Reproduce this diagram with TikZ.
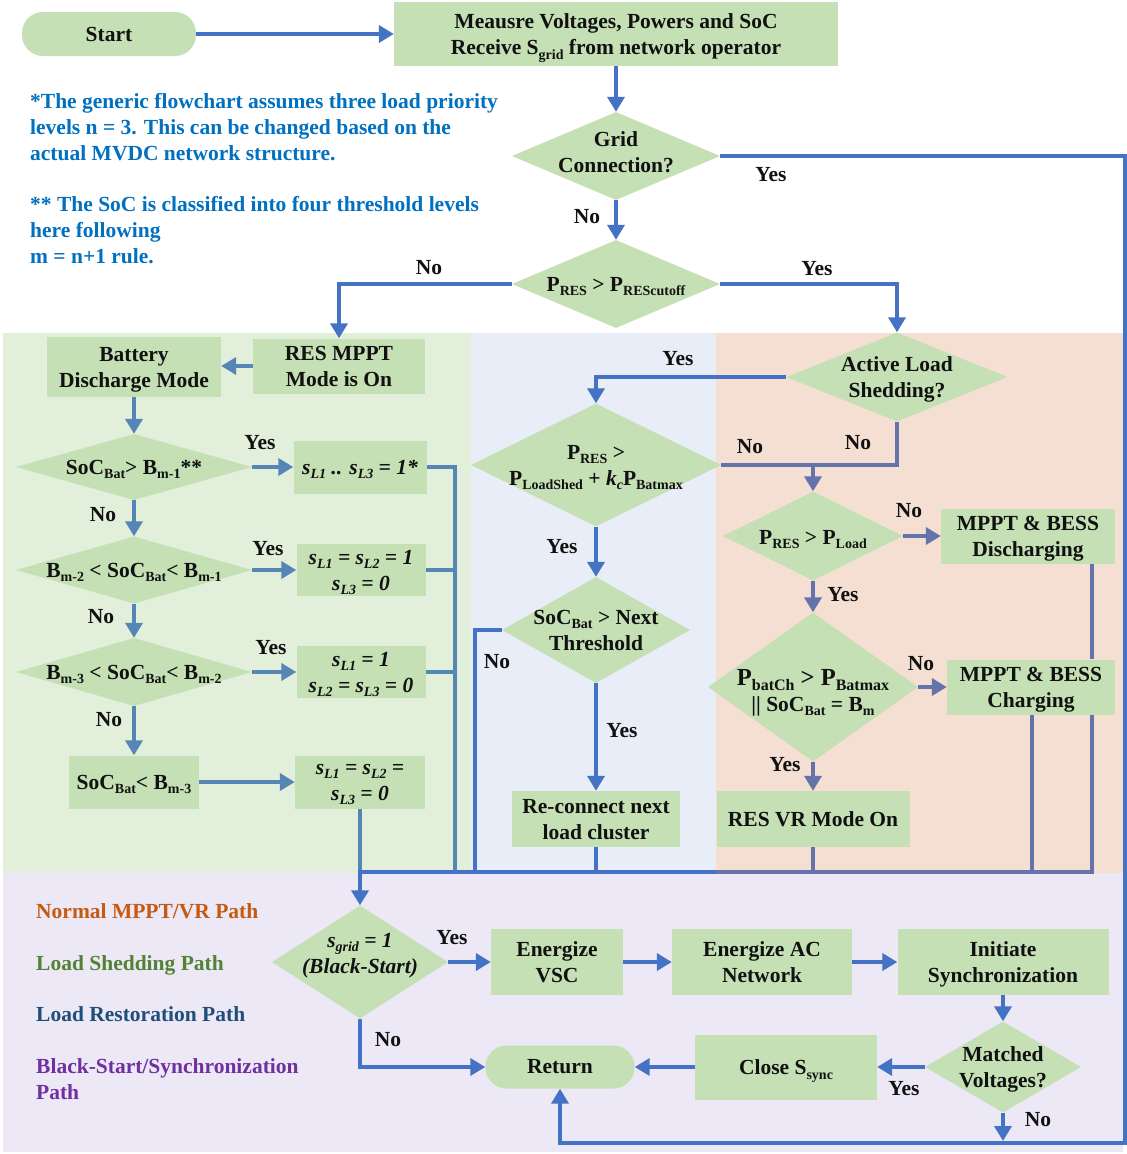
\documentclass[tikz,border=0pt]{standalone}
\usepackage{fontspec}
\setmainfont{Liberation Serif}
\usetikzlibrary{arrows.meta,shapes.geometric}
\definecolor{nodefill}{HTML}{C5E0B4}
\definecolor{mainblue}{HTML}{4472C4}
\definecolor{steel}{HTML}{5586B6}
\definecolor{slate}{HTML}{6473AA}
\definecolor{bggreen}{HTML}{E2EFDA}
\definecolor{bgblue}{HTML}{E9EDF7}
\definecolor{bgorange}{HTML}{F4DFD2}
\definecolor{bgpurple}{HTML}{ECE8F6}
\definecolor{notecol}{HTML}{0070C0}
\definecolor{legorange}{HTML}{C55A11}
\definecolor{leggreen}{HTML}{548235}
\definecolor{legblue}{HTML}{1F4E79}
\definecolor{legpurple}{HTML}{7030A0}
\definecolor{txtcol}{HTML}{111111}
\newcommand\mysub[1]{\raisebox{-0.22em}{\fontsize{14}{14}\selectfont #1}}
\newcommand\mybigsub[1]{\raisebox{-0.22em}{\fontsize{16}{16}\selectfont #1}}
\tikzset{
  box/.style={rectangle, fill=nodefill, inner sep=0pt, align=center, text=txtcol, text depth=0pt},
  dia/.style={diamond, fill=nodefill, inner sep=0pt},
  term/.style={rectangle, rounded corners=21pt, fill=nodefill, inner sep=0pt, text=txtcol},
  txt/.style={align=center, inner sep=0pt, text=txtcol, text depth=0pt},
  lab/.style={inner sep=0pt, text=txtcol},
  note/.style={align=left, inner sep=0pt, text=notecol, anchor=north west},
  leg/.style={inner sep=0pt, anchor=base west},
  ln/.style={line width=4pt, draw=mainblue},
  arr/.style={line width=4pt, draw=mainblue, -{Triangle[width=17pt,length=15pt]}},
}
\begin{document}
\begin{tikzpicture}[x=1pt, y=-1pt, font=\fontsize{21.5}{26}\selectfont\bfseries]
\useasboundingbox (0,0) rectangle (1127,1154);
\fill[white] (0,0) rectangle (1127,1154);
% background regions
\fill[bggreen] (3,333) rectangle (471,873);
\fill[bgblue] (471,333) rectangle (716,873);
\fill[bgorange] (716,333) rectangle (1123,873);
\fill[bgpurple] (3,873) rectangle (1123,1152);

% notes
\node[note] (note1) at (30,93) {*The generic flowchart assumes three load priority\\levels n = 3. This can be changed based on the\\actual MVDC network structure.};
\node[note] (note2) at (30,196) {** The SoC is classified into four threshold levels\\here following\\m = n+1 rule.};

% legend
\node[leg, text=legorange] (leg1) at (36,918) {Normal MPPT/VR Path};
\node[leg, text=leggreen] (leg2) at (36,970) {Load Shedding Path};
\node[leg, text=legblue] (leg3) at (36,1021) {Load Restoration Path};
\node[leg, text=legpurple, align=left, anchor=north west] (leg4) at (36,1058) {Black-Start/Synchronization\\Path};

% top
\node[term, minimum width=174pt, minimum height=44pt] (start) at (109,34) {Start};
\node[box, minimum width=444pt, minimum height=64pt] (meas) at (616,34) {Meausre Voltages, Powers and SoC\\Receive S\mysub{grid} from network operator};
\node[dia, minimum width=208pt, minimum height=88pt] (grid) at (616,156) {};
\node[txt] (gridt) at (616,152) {Grid\\Connection?};
\node[dia, minimum width=208pt, minimum height=88pt] (pres) at (616,284) {};
\node[txt] (prest) at (616,284) {P\mysub{RES} > P\mysub{REScutoff}};

% green region
\node[box, minimum width=172pt, minimum height=55pt] (resm) at (339,366) {RES MPPT\\Mode is On};
\node[box, minimum width=174pt, minimum height=60pt] (batt) at (134,367) {Battery\\Discharge Mode};
\node[dia, minimum width=236pt, minimum height=66pt] (d1) at (134,467) {};
\node[txt] (d1t) at (134,467) {SoC\mysub{Bat}> B\mysub{m-1}**};
\node[box, minimum width=133pt, minimum height=53pt, font=\fontsize{21.5}{26}\selectfont\bfseries\itshape] (b1) at (360,467) {s\mysub{L1} .. s\mysub{L3} = 1*};
\node[dia, minimum width=236pt, minimum height=67pt] (d2) at (134,570) {};
\node[txt] (d2t) at (134,570) {B\mysub{m-2} < SoC\mysub{Bat}< B\mysub{m-1}};
\node[box, minimum width=129pt, minimum height=52pt, font=\fontsize{21.5}{26}\selectfont\bfseries\itshape] (b2) at (361,570) {s\mysub{L1} = s\mysub{L2} = 1\\s\mysub{L3} = 0};
\node[dia, minimum width=236pt, minimum height=68pt] (d3) at (134,672) {};
\node[txt] (d3t) at (134,672) {B\mysub{m-3} < SoC\mysub{Bat}< B\mysub{m-2}};
\node[box, minimum width=129pt, minimum height=52pt, font=\fontsize{21.5}{26}\selectfont\bfseries\itshape] (b3) at (361,672) {s\mysub{L1} = 1\\s\mysub{L2} = s\mysub{L3} = 0};
\node[box, minimum width=130pt, minimum height=53pt] (b4) at (134,782) {SoC\mysub{Bat}< B\mysub{m-3}};
\node[box, minimum width=130pt, minimum height=53pt, font=\fontsize{21.5}{26}\selectfont\bfseries\itshape] (b5) at (360,782) {s\mysub{L1} = s\mysub{L2} =\\s\mysub{L3} = 0};

% blue region
\node[dia, minimum width=221pt, minimum height=89pt] (act) at (897,377) {};
\node[txt] (actt) at (897,377) {Active Load\\Shedding?};
\node[dia, minimum width=250pt, minimum height=123pt] (pres2) at (596,465) {};
\node[txt] (pres2t) at (596,465) {P\mysub{RES} >\\P\mysub{LoadShed} + \textit{k}\mysub{\textit{c}}P\mysub{Batmax}};
\node[dia, minimum width=188pt, minimum height=106pt] (socn) at (596,630) {};
\node[txt] (socnt) at (596,630) {SoC\mysub{Bat} > Next\\Threshold};
\node[box, minimum width=168pt, minimum height=56pt] (recon) at (596,819) {Re-connect next\\load cluster};

% orange region
\node[dia, minimum width=180pt, minimum height=89pt] (pload) at (813,536) {};
\node[txt] (ploadt) at (813,537) {P\mysub{RES} > P\mysub{Load}};
\node[box, minimum width=174pt, minimum height=55pt] (disch) at (1028,536) {MPPT \& BESS\\Discharging};
\node[dia, minimum width=210pt, minimum height=149pt] (pbat) at (813,687) {};
\node[txt] (pbatt) at (813,690) {{\fontsize{24.5}{28}\selectfont P\mybigsub{batCh} > P\mybigsub{Batmax}}\\|| SoC\mysub{Bat} = B\mysub{m}};
\node[box, minimum width=168pt, minimum height=55pt] (charg) at (1031,687) {MPPT \& BESS\\Charging};
\node[box, minimum width=193pt, minimum height=56pt] (resvr) at (813,819) {RES VR Mode On};

% bottom region
\node[dia, minimum width=176pt, minimum height=113pt] (sgrid) at (360,962) {};
\node[txt, font=\fontsize{21.5}{26}\selectfont\bfseries\itshape] (sgridt) at (360,953) {s\mysub{grid} = 1\\(Black-Start)};
\node[box, minimum width=132pt, minimum height=66pt] (evsc) at (557,962) {Energize\\VSC};
\node[box, minimum width=180pt, minimum height=66pt] (eac) at (762,962) {Energize AC\\Network};
\node[box, minimum width=211pt, minimum height=66pt] (init) at (1003,962) {Initiate\\Synchronization};
\node[dia, minimum width=156pt, minimum height=91pt] (match) at (1003,1067) {};
\node[txt] (matcht) at (1003,1067) {Matched\\Voltages?};
\node[box, minimum width=182pt, minimum height=65pt] (close) at (786,1067) {Close S\mysub{sync}};
\node[term, minimum width=149pt, minimum height=43pt] (ret) at (560,1067) {Return};

% coordinates
\coordinate (rc) at (1125,1143);
\coordinate (c1) at (360,872);
\coordinate (c2) at (455,872);
\coordinate (c3) at (475,872);
\coordinate (c4) at (596,872);
\coordinate (c5) at (716,872);
\coordinate (c6) at (813,872);
\coordinate (c7) at (1032,872);
\coordinate (c8) at (1092,872);
\coordinate (jn) at (813,465);
\coordinate (mno) at (1003,1141);

% connectors: top
\draw[arr] (start) -- (meas);
\draw[arr] (meas.south) -- (grid.north);
\draw[arr] (grid.south) -- (pres.north);
\draw[arr] (grid.east) -| (rc) -| (ret.south);
\draw[arr] (pres.west) -| (resm.north);
\draw[arr] (pres.east) -| (act.north);

% green region
\draw[arr, draw=steel] (resm.west) -- (resm.west -| batt.east);
\draw[arr, draw=steel] (batt.south) -- (d1.north);
\draw[arr, draw=steel] (d1.east) -- (b1.west);
\draw[arr, draw=steel] (d1.south) -- (d2.north);
\draw[arr, draw=steel] (d2.east) -- (b2.west);
\draw[arr, draw=steel] (d2.south) -- (d3.north);
\draw[arr, draw=steel] (d3.east) -- (b3.west);
\draw[arr, draw=steel] (d3.south) -- (b4.north);
\draw[arr, draw=steel] (b4.east) -- (b5.west);
\draw[ln, draw=steel] (b1.east) -| (c2);
\draw[ln, draw=steel] (b2.east) -- (b2.east -| c2);
\draw[ln, draw=steel] (b3.east) -- (b3.east -| c2);
\draw[ln, draw=steel] (b5.south) -- (c1);

% blue region
\draw[arr] (act.west) -| (pres2.north);
\draw[arr] (pres2.south) -- (socn.north);
\draw[arr] (socn.south) -- (recon.north);
\draw[ln] (socn.west) -| (c3);
\draw[ln] (recon.south) -- (c4);

% orange region
\draw[ln, draw=slate] (act.south) |- (pres2.east);
\draw[arr, draw=slate] (jn) -- (pload.north);
\draw[arr, draw=slate] (pload.east) -- (disch.west);
\draw[arr, draw=slate] (pload.south) -- (pbat.north);
\draw[arr, draw=slate] (pbat.east) -- (charg.west);
\draw[arr, draw=slate] (pbat.south) -- (resvr.north);
\draw[ln, draw=slate] (resvr.south) -- (c6);
\draw[ln, draw=slate] (charg.south -| c7) -- (c7);
\draw[ln, draw=slate] (disch.south -| c8) -- (charg.north -| c8);
\draw[ln, draw=slate] (charg.south -| c8) -- (c8);

% collector
\draw[ln] ([xshift=-2pt]c1) -- (c5);
\draw[ln, draw=slate] (c5) -- ([xshift=2pt]c8);
\draw[arr] (c1) -- (sgrid.north);

% bottom
\draw[arr] (sgrid.east) -- (evsc.west);
\draw[arr] (evsc.east) -- (eac.west);
\draw[arr] (eac.east) -- (init.west);
\draw[arr] (init.south) -- (match.north);
\draw[arr] (match.west) -- (close.east);
\draw[arr] (close.west) -- (ret.east);
\draw[arr] (sgrid.south) |- (ret.west);
\draw[arr] (match.south) -- (mno);

% labels
\node[lab] (l1) at (587,217) {No};
\node[lab] (l2) at (771,175) {Yes};
\node[lab] (l3) at (429,268) {No};
\node[lab] (l4) at (817,269) {Yes};
\node[lab] (l5) at (678,359) {Yes};
\node[lab] (l6) at (750,447) {No};
\node[lab] (l7) at (858,443) {No};
\node[lab] (l8) at (260,443) {Yes};
\node[lab] (l9) at (103,515) {No};
\node[lab] (l10) at (268,549) {Yes};
\node[lab] (l11) at (101,617) {No};
\node[lab] (l12) at (271,648) {Yes};
\node[lab] (l13) at (109,720) {No};
\node[lab] (l14) at (562,547) {Yes};
\node[lab] (l15) at (909,511) {No};
\node[lab] (l16) at (843,595) {Yes};
\node[lab] (l17) at (497,662) {No};
\node[lab] (l18) at (622,731) {Yes};
\node[lab] (l19) at (921,664) {No};
\node[lab] (l20) at (785,765) {Yes};
\node[lab] (l21) at (452,938) {Yes};
\node[lab] (l22) at (388,1040) {No};
\node[lab] (l23) at (904,1089) {Yes};
\node[lab] (l24) at (1038,1120) {No};
\end{tikzpicture}
\end{document}
